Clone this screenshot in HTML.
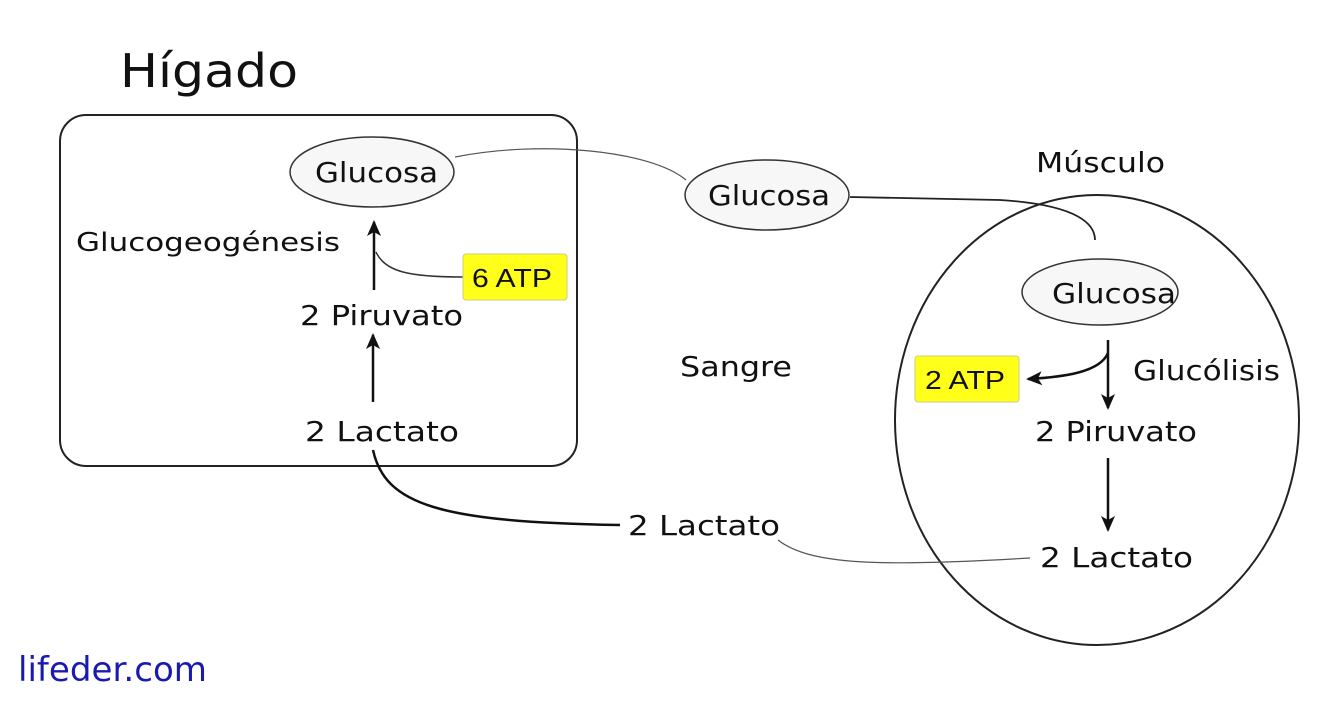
<!DOCTYPE html>
<html><head><meta charset="utf-8"><style>
html,body{margin:0;padding:0;background:#fff;}
svg{display:block;}
text{font-family:"DejaVu Sans","Liberation Sans",sans-serif;fill:#111;}
.a{font-family:"Liberation Sans",sans-serif;}
</style></head><body>
<svg width="1330" height="702" viewBox="0 0 1330 702" xmlns="http://www.w3.org/2000/svg">
<defs>
<marker id="ah" markerWidth="18" markerHeight="14" refX="14" refY="7" orient="auto" markerUnits="userSpaceOnUse">
<path d="M0,0 L16,7 L0,14 L4,7 Z" fill="#111"/>
</marker>
</defs>
<text x="120" y="87" font-size="46" textLength="178" lengthAdjust="spacingAndGlyphs">Hígado</text>
<rect x="60" y="115" width="517" height="351" rx="26" fill="none" stroke="#222" stroke-width="2"/>
<ellipse cx="372" cy="172" rx="82" ry="35" fill="#f7f7f7" stroke="#333" stroke-width="1.5"/>
<text x="315" y="182" font-size="28" textLength="123" lengthAdjust="spacingAndGlyphs">Glucosa</text>
<text x="76" y="251" font-size="26" textLength="264" lengthAdjust="spacingAndGlyphs">Glucogeogénesis</text>
<line x1="374" y1="290" x2="374" y2="222" stroke="#111" stroke-width="2.5" marker-end="url(#ah)"/>
<path d="M376,252 C385,272 410,277 463,277" fill="none" stroke="#333" stroke-width="1.5"/>
<rect x="463" y="254" width="104" height="46" rx="3" fill="#ffff1a" stroke="#cccc80" stroke-width="1"/>
<text class="a" x="472" y="287" font-size="26" textLength="80" lengthAdjust="spacingAndGlyphs">6 ATP</text>
<text x="300" y="325" font-size="28" textLength="163" lengthAdjust="spacingAndGlyphs">2 Piruvato</text>
<line x1="373" y1="402" x2="373" y2="335" stroke="#111" stroke-width="2.5" marker-end="url(#ah)"/>
<text x="305" y="441" font-size="28" textLength="154" lengthAdjust="spacingAndGlyphs">2 Lactato</text>
<path d="M455,157 C540,140 650,150 686,180" fill="none" stroke="#555" stroke-width="1.2"/>
<ellipse cx="767" cy="195" rx="82" ry="35" fill="#f7f7f7" stroke="#333" stroke-width="1.5"/>
<text x="708" y="205" font-size="28" textLength="122" lengthAdjust="spacingAndGlyphs">Glucosa</text>
<path d="M850,197 L1000,200 C1080,205 1095,225 1095,240" fill="none" stroke="#222" stroke-width="1.8"/>
<text x="1036" y="172" font-size="28" textLength="129" lengthAdjust="spacingAndGlyphs">Músculo</text>
<text x="680" y="376" font-size="28" textLength="112" lengthAdjust="spacingAndGlyphs">Sangre</text>
<ellipse cx="1097" cy="420" rx="202" ry="225" fill="none" stroke="#222" stroke-width="2"/>
<ellipse cx="1100" cy="292" rx="78" ry="33" fill="#f7f7f7" stroke="#333" stroke-width="1.5"/>
<text x="1052" y="303" font-size="28" textLength="124" lengthAdjust="spacingAndGlyphs">Glucosa</text>
<line x1="1108" y1="340" x2="1108" y2="408" stroke="#111" stroke-width="2.5" marker-end="url(#ah)"/>
<path d="M1108,353 C1100,372 1065,377 1028,379" fill="none" stroke="#111" stroke-width="2.5" marker-end="url(#ah)"/>
<rect x="915" y="356" width="104" height="46" rx="3" fill="#ffff1a" stroke="#cccc80" stroke-width="1"/>
<text class="a" x="925" y="389" font-size="26" textLength="80" lengthAdjust="spacingAndGlyphs">2 ATP</text>
<text x="1133" y="380" font-size="28" textLength="147" lengthAdjust="spacingAndGlyphs">Glucólisis</text>
<text x="1035" y="441" font-size="28" textLength="162" lengthAdjust="spacingAndGlyphs">2 Piruvato</text>
<line x1="1108" y1="458" x2="1108" y2="530" stroke="#111" stroke-width="2.5" marker-end="url(#ah)"/>
<text x="1040" y="567" font-size="28" textLength="153" lengthAdjust="spacingAndGlyphs">2 Lactato</text>
<text x="628" y="535" font-size="28" textLength="152" lengthAdjust="spacingAndGlyphs">2 Lactato</text>
<path d="M373,450 C385,505 440,522 620,525" fill="none" stroke="#111" stroke-width="2.5"/>
<path d="M778,540 C810,565 880,567 1030,558" fill="none" stroke="#555" stroke-width="1.2"/>
<text x="18" y="681" font-size="34" textLength="189" lengthAdjust="spacingAndGlyphs" style="fill:#1a1ab0">lifeder.com</text>
</svg>
</body></html>
